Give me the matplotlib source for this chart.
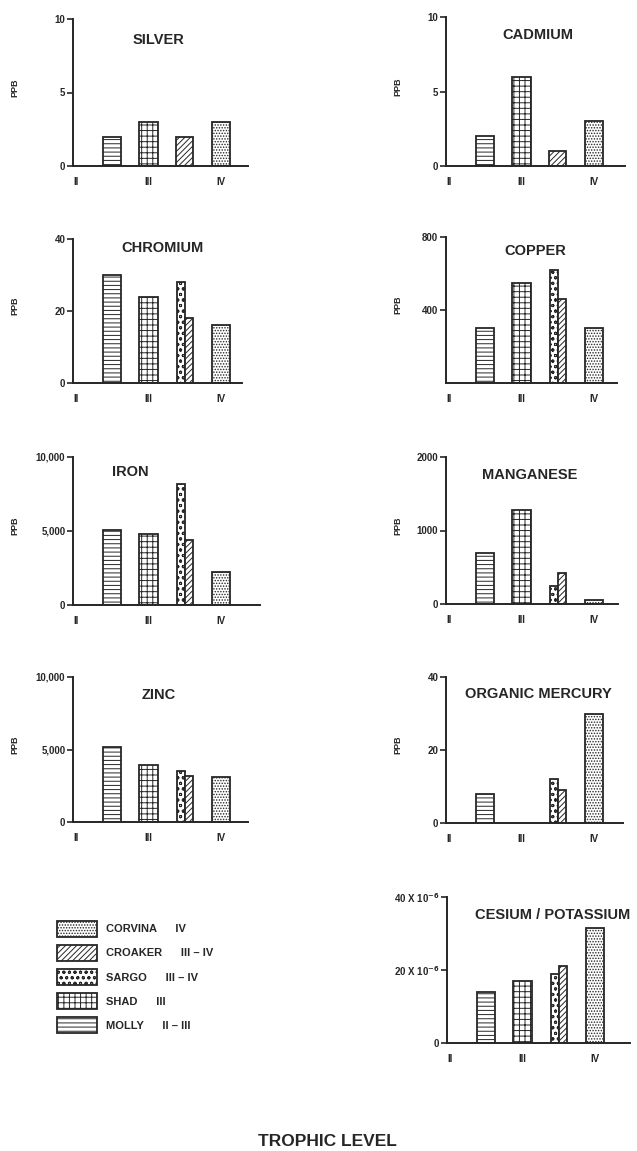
import numpy as np
import matplotlib.pyplot as plt
from matplotlib.patches import Patch

plt.rcParams['font.family'] = ['Liberation Sans', 'DejaVu Sans']
plt.rcParams['font.weight'] = 'bold'
plt.rcParams['hatch.linewidth'] = 0.7
plt.rcParams['hatch.color'] = '#2a2a2a'
plt.rcParams['mathtext.default'] = 'bf'

#%% DATA (PPB, cesium/potassium in units of 1e-6)
elements = ['SILVER', 'CADMIUM', 'CHROMIUM', 'COPPER', 'IRON', 'MANGANESE',
            'ZINC', 'ORGANIC MERCURY', 'CESIUM / POTASSIUM']
molly   = [2, 2, 30, 300, 5100, 700, 5200, 8, 14]
shad    = [3, 6, 24, 550, 4800, 1280, 3900, None, 17]
sargo   = [None, None, 28, 620, 8200, 240, 3500, 12, 19]
croaker = [2, 1, 18, 460, 4400, 420, 3150, 9, 21]
corvina = [3, 3, 16, 300, 2200, 50, 3100, 30, 31.5]

y_max = [10, 10, 40, 800, 10000, 2000, 10000, 40, 40]
y_ticks = [[0, 5, 10], [0, 5, 10], [0, 20, 40], [400, 800], [0, 5000, 10000],
           [0, 1000, 2000], [0, 5000, 10000], [0, 20, 40], [0, 20, 40]]
y_ticklabels = [['0', '5', '10'], ['0', '5', '10'], ['0', '20', '40'], ['400', '800'],
                ['0', '5,000', '10,000'], ['0', '1000', '2000'], ['0', '5,000', '10,000'],
                ['0', '20', '40'], ['0', '20 X 10$^{-6}$', '40 X 10$^{-6}$']]
has_ppb = [True, True, True, True, True, True, True, True, False]

trophic_levels = ['II', 'III', 'IV']
species = ['CORVINA', 'CROAKER', 'SARGO', 'SHAD', 'MOLLY']
species_levels = ['IV', 'III \u2013 IV', 'III \u2013 IV', 'III', 'II \u2013 III']

#%% STYLE / LAYOUT
ink = '#262626'
hatch_molly, hatch_shad, hatch_sargo, hatch_croaker, hatch_corvina = '----', '+++', 'ooo', '//////', '......'
species_hatches = [hatch_corvina, hatch_croaker, hatch_sargo, hatch_shad, hatch_molly]

W, H = 637, 1151
# (axis left px, axis top px, axis right px, zero line px)
boxes = [(73, 19, 248, 166), (446, 17, 625, 166),
         (73, 239, 242, 383), (446, 237, 617, 383),
         (73, 457, 260, 605), (446, 457, 618, 604),
         (73, 677, 248, 822), (446, 677, 623, 823),
         (447, 897, 630, 1043)]
title_px = [(158, 40), (538, 35), (162, 248), (535, 251), (130, 472),
            (530, 475), (159, 695), (538, 694), (553, 915)]
px_per_unit = 72.5
bar_w = 0.25

fig = plt.figure(figsize=(W / 100, H / 100), dpi=100)

def bar(ax, x, h, w, hatch):
    ax.bar(x, h, width=w, facecolor='white', edgecolor=ink, linewidth=1.3, hatch=hatch)

for i, name in enumerate(elements):
    left, top, right, zero = boxes[i]
    ax = fig.add_axes([left / W, 1 - zero / H, (right - left) / W, (zero - top) / H])

    bar(ax, 0.5, molly[i], bar_w, hatch_molly)
    if shad[i] is not None:
        bar(ax, 1.0, shad[i], bar_w, hatch_shad)
    if sargo[i] is not None:
        bar(ax, 1.5 - 0.055, sargo[i], 0.11, hatch_sargo)
        bar(ax, 1.5 + 0.055, croaker[i], 0.11, hatch_croaker)
    else:
        bar(ax, 1.5, croaker[i], 0.24, hatch_croaker)
    bar(ax, 2.0, corvina[i], bar_w, hatch_corvina)

    ax.set_xlim(-3 / px_per_unit, (right - left - 3) / px_per_unit)
    ax.set_ylim(0, y_max[i])
    ax.set_xticks([0, 1, 2])
    ax.set_xticklabels(trophic_levels)
    ax.set_yticks(y_ticks[i])
    ax.set_yticklabels(y_ticklabels[i])
    ax.tick_params(axis='x', length=0, pad=8, labelsize=7, colors=ink)
    ax.tick_params(axis='y', length=4, width=1.2, pad=1.5, labelsize=7, colors=ink)
    for s in ['top', 'right']:
        ax.spines[s].set_visible(False)
    for s in ['left', 'bottom']:
        ax.spines[s].set_linewidth(1.4)
        ax.spines[s].set_color(ink)

    tx, ty = title_px[i]
    fig.text(tx / W, 1 - ty / H, name, ha='center', va='center', fontsize=10.5,
             fontweight='bold', color=ink)
    if has_ppb[i]:
        px = 15 if left < 300 else 398
        fig.text(px / W, 1 - ((top + zero) / 2 - 5) / H, 'PPB', rotation=90,
                 ha='center', va='center', fontsize=6.5, fontweight='bold', color=ink)

#%% LEGEND
handles = [Patch(facecolor='white', edgecolor=ink, linewidth=1.3, hatch=h) for h in species_hatches]
labels = [s + '      ' + lv for s, lv in zip(species, species_levels)]
fig.legend(handles, labels, loc='upper left', bbox_to_anchor=(57 / W, 1 - 921 / H),
           frameon=False, borderpad=0, borderaxespad=0, fontsize=8,
           handlelength=3.6, handleheight=1.8, labelspacing=0.75, handletextpad=0.8,
           labelcolor=ink)

fig.text(327 / W, 1 - 1141 / H, 'TROPHIC LEVEL', ha='center', va='center',
         fontsize=12.5, fontweight='bold', color=ink)

fig.savefig('out.png', dpi=100, facecolor='white')
